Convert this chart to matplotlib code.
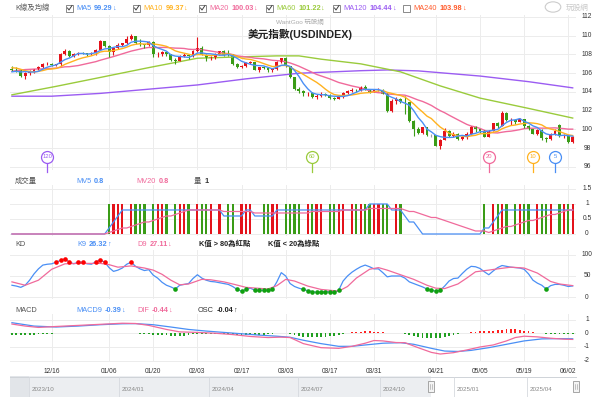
"""USD index (USDINDEX) daily chart with volume, KD and MACD panels."""

import matplotlib

matplotlib.use("Agg")
import matplotlib.pyplot as plt
from matplotlib.patches import Rectangle, Circle
from matplotlib.lines import Line2D
import numpy as np
import pandas as pd

plt.rcParams["font.family"] = ["Liberation Sans", "Noto Sans CJK TC", "DejaVu Sans"]

# ---------------------------------------------------------------- data
holidays = ["2024-12-25", "2025-01-01", "2025-04-18"]
dates = pd.bdate_range("2024-12-03", "2025-06-03")
dates = dates[~dates.isin(pd.to_datetime(holidays))]

tick_dates = ["2024-12-16", "2025-01-06", "2025-01-20", "2025-02-03", "2025-02-17",
              "2025-03-03", "2025-03-17", "2025-03-31", "2025-04-21", "2025-05-05",
              "2025-05-19", "2025-06-02"]

opens = [106.45, 106.37, 106.35, 105.74, 105.99, 106.16, 106.41, 106.70, 106.95, 107.00,
         106.84, 106.95, 108.08, 108.40, 107.82, 108.04, 108.17, 108.13, 108.00, 108.13,
         108.49, 109.39, 108.95, 108.26, 108.69, 109.04, 109.19, 109.65, 109.96, 109.23,
         109.08, 109.00, 109.35, 108.04, 108.06, 108.24, 108.05, 107.44, 107.34, 107.87,
         107.99, 107.80, 108.37, 108.73, 107.96, 107.59, 107.70, 108.04, 108.33, 107.95,
         107.93, 107.03, 106.71, 106.77, 107.11, 107.17, 106.39, 106.62, 106.61, 106.31,
         106.43, 107.25, 107.61, 106.76, 105.59, 104.27, 104.08, 103.84, 103.90, 103.43,
         103.57, 103.83, 103.72, 103.38, 103.24, 103.45, 103.85, 104.09, 104.26, 104.21,
         104.56, 104.29, 104.04, 104.20, 104.22, 103.80, 101.98, 102.99, 103.26, 102.92,
         102.89, 100.87, 100.10, 99.63, 100.22, 99.38, 99.38, 98.28, 98.92, 99.85,
         99.32, 99.47, 98.98, 99.24, 99.47, 100.25, 100.03, 99.83, 99.25, 99.88,
         100.64, 100.42, 101.79, 101.02, 101.05, 100.85, 101.09, 100.38, 100.05, 99.56,
         99.97, 99.11, 98.95, 99.53, 100.45, 99.27, 99.33, 98.71]
highs = [106.74, 106.70, 106.45, 106.15, 106.30, 106.50, 106.80, 107.05, 107.18, 107.10,
         107.00, 108.15, 108.54, 108.45, 108.15, 108.25, 108.30, 108.20, 108.25, 108.55,
         109.54, 109.40, 109.00, 108.75, 109.20, 109.25, 109.96, 110.18, 110.00, 109.60,
         109.15, 109.40, 109.45, 108.30, 108.35, 108.30, 108.10, 107.60, 107.95, 108.15,
         108.10, 108.50, 109.88, 108.90, 108.00, 107.85, 108.15, 108.40, 108.50, 108.50,
         108.05, 107.10, 106.90, 107.20, 107.30, 107.20, 106.70, 106.75, 106.70, 106.60,
         107.30, 107.65, 107.70, 106.80, 105.65, 104.50, 104.20, 104.05, 104.00, 103.80,
         103.95, 103.90, 103.80, 103.50, 103.70, 104.00, 104.20, 104.45, 104.35, 104.60,
         104.70, 104.35, 104.35, 104.40, 104.30, 103.85, 103.25, 103.50, 103.40, 103.55,
         102.95, 101.05, 100.25, 100.30, 100.25, 99.50, 99.40, 99.00, 100.15, 99.90,
         99.75, 99.60, 99.35, 99.70, 100.35, 100.40, 100.10, 99.90, 99.95, 100.70,
         100.80, 101.95, 101.85, 101.20, 101.10, 101.25, 101.10, 100.50, 100.10, 100.10,
         100.00, 99.20, 99.60, 100.00, 100.55, 99.55, 99.40, 99.35]
lows = [106.20, 106.10, 105.62, 105.40, 105.85, 106.05, 106.30, 106.55, 106.85, 106.72,
        106.75, 106.80, 107.95, 107.75, 107.70, 107.95, 108.05, 107.85, 107.90, 107.95,
        108.45, 108.80, 107.75, 107.95, 108.60, 108.90, 109.10, 109.50, 109.15, 108.95,
        108.70, 108.90, 107.75, 107.70, 107.85, 107.85, 107.30, 106.95, 107.30, 107.70,
        107.50, 107.75, 108.30, 107.90, 107.30, 107.45, 107.55, 107.90, 107.85, 107.80,
        106.90, 106.55, 106.55, 106.70, 106.95, 106.30, 106.10, 106.40, 106.15, 106.10,
        106.35, 107.10, 106.70, 105.45, 104.20, 103.90, 103.60, 103.60, 103.35, 103.20,
        103.45, 103.60, 103.30, 103.15, 103.20, 103.35, 103.75, 104.05, 104.05, 104.10,
        104.20, 103.90, 103.95, 104.10, 103.75, 101.90, 101.90, 102.75, 102.80, 101.70,
        100.80, 99.30, 99.50, 99.55, 99.30, 99.20, 98.20, 97.92, 98.90, 99.15,
        99.20, 98.85, 98.90, 98.95, 99.40, 99.70, 99.65, 99.20, 99.15, 99.80,
        100.20, 100.40, 100.90, 100.50, 100.60, 100.80, 100.15, 99.95, 99.50, 99.40,
        98.85, 98.70, 98.90, 99.45, 99.15, 99.10, 98.60, 98.55]
closes = [106.37, 106.35, 105.74, 105.99, 106.16, 106.41, 106.70, 106.95, 107.00, 106.84,
          106.95, 108.08, 108.40, 107.82, 108.04, 108.17, 108.13, 108.00, 108.13, 108.49,
          109.39, 108.95, 108.26, 108.69, 109.04, 109.19, 109.65, 109.96, 109.23, 109.08,
          109.00, 109.35, 108.04, 108.06, 108.24, 108.05, 107.44, 107.34, 107.87, 107.99,
          107.80, 108.37, 108.73, 107.96, 107.59, 107.70, 108.04, 108.33, 107.95, 107.93,
          107.03, 106.71, 106.77, 107.11, 107.17, 106.39, 106.62, 106.61, 106.31, 106.43,
          107.25, 107.61, 106.76, 105.59, 104.27, 104.08, 103.84, 103.90, 103.43, 103.57,
          103.83, 103.72, 103.38, 103.24, 103.45, 103.85, 104.09, 104.26, 104.21, 104.56,
          104.29, 104.04, 104.20, 104.22, 103.80, 101.98, 102.99, 103.26, 102.92, 102.89,
          100.87, 100.10, 99.63, 100.22, 99.38, 99.38, 98.28, 98.92, 99.85, 99.32,
          99.47, 98.98, 99.24, 99.47, 100.25, 100.03, 99.83, 99.25, 99.88, 100.64,
          100.42, 101.79, 101.02, 101.05, 100.85, 101.09, 100.38, 100.05, 99.56, 99.97,
          99.11, 98.95, 99.53, 99.87, 99.27, 99.33, 98.71, 99.25]
# closes of the 19 sessions before the first candle (needed for MA20)
prior_closes = [105.09, 104.47, 105.00, 105.56, 106.02, 106.49, 106.69, 106.68, 106.27,
                106.21, 106.68, 107.03, 107.55, 106.80, 107.00, 106.07, 106.11, 105.74,
                106.45]

ma60_idx = [0, 10, 20, 31, 42, 52, 60, 65, 70, 79, 88, 97, 106, 117, 127]
ma60_val = [103.7, 104.6, 105.55, 106.6, 107.6, 107.75, 107.85, 107.85, 107.5, 107.0,
            106.15, 104.65, 103.35, 102.25, 101.22]
ma120_idx = [0, 9, 20, 31, 42, 53, 65, 79, 85, 92, 106, 117, 127]
ma120_val = [103.55, 103.55, 103.85, 104.3, 104.75, 105.4, 106.0, 106.27, 106.35, 106.25,
             105.7, 105.1, 104.44]

volume = [0] * 22 + [1, 1, 1, 1, 0, 1, 1, 1, 1, 0, 1, 1, 1, 1, 0, 1, 1, 1, 1, 0,
                     1, 1, 1, 1, 0, 1, 0, 1, 1, 0, 1, 1, 1, 0, 0, 1, 1, 1, 1, 0,
                     1, 1, 1, 1, 0, 1, 1, 1, 1, 0, 1, 1, 1, 1, 0, 1, 1, 1, 1, 1,
                     1, 1, 1, 1, 0, 1, 1] + [0] * 18 + \
         [1, 0, 1, 1, 1, 1, 0, 1, 1, 1, 1, 0, 1, 1, 1, 1, 0, 1, 1, 1, 1]

k9 = [28, 26, 23, 28, 40, 55, 67, 76, 78, 79, 83, 87, 91, 83, 79, 83, 83, 79, 78, 84,
      88, 83, 70, 61, 64, 69, 78, 83, 73, 67, 63, 65, 52, 45, 35, 28, 24, 19, 28, 30,
      32, 44, 53, 45, 40, 37, 36, 34, 32, 30, 25, 18, 14, 18, 21, 16, 16, 16, 16, 18,
      36, 58, 50, 32, 25, 21, 18, 15, 13, 11, 12, 13, 12, 11, 16, 38, 50, 59, 66, 72,
      76, 72, 67, 67, 58, 48, 50, 50, 50, 45, 36, 32, 28, 24, 19, 16, 14, 16, 26, 38,
      44, 45, 56, 66, 73, 72, 68, 60, 53, 62, 70, 75, 73, 71, 70, 69, 66, 55, 40, 33,
      28, 19, 27, 30, 30, 28, 25, 26.32]
d9_idx = [0, 3, 6, 9, 12, 15, 18, 20, 22, 24, 27, 30, 32, 34, 36, 38, 40, 43, 45, 48,
          50, 53, 58, 60, 62, 64, 67, 70, 74, 76, 78, 81, 83, 85, 88, 91, 94, 96, 98,
          101, 103, 105, 108, 110, 113, 116, 119, 122, 124, 127]
d9_val = [36, 28, 40, 66, 79, 80, 80, 80, 77, 71, 74, 69, 64, 54, 40, 29, 31, 42, 41, 36,
          31, 23, 19, 27, 42, 38, 26, 18, 14, 25, 45, 66, 70, 64, 53, 42, 28, 21, 20,
          31, 45, 60, 64, 67, 71, 69, 57, 37, 31, 27.11]

macd_idx = [0, 5, 10, 15, 20, 25, 28, 32, 36, 40, 44, 48, 52, 56, 60, 63, 66, 70, 74,
            77, 80, 84, 88, 91, 95, 98, 101, 104, 108, 112, 116, 120, 124, 127]
macd_val = [0.80, 0.55, 0.48, 0.55, 0.65, 0.72, 0.73, 0.65, 0.48, 0.30, 0.18, 0.08,
            -0.02, -0.12, -0.20, -0.28, -0.50, -0.75, -0.95, -0.95, -0.85, -0.72, -0.68,
            -0.80, -1.10, -1.30, -1.33, -1.25, -1.05, -0.80, -0.55, -0.40, -0.38, -0.39]
dif_idx = [0, 3, 6, 10, 15, 20, 25, 28, 31, 35, 38, 42, 46, 50, 54, 58, 61, 63, 66, 70,
           74, 77, 80, 82, 84, 87, 89, 92, 95, 97, 100, 103, 106, 109, 112, 114, 116,
           119, 122, 125, 127]
dif_val = [0.70, 0.55, 0.45, 0.52, 0.60, 0.68, 0.76, 0.74, 0.60, 0.30, 0.12, 0.08,
           0.02, -0.08, -0.22, -0.30, -0.27, -0.30, -0.75, -1.05, -1.10, -0.95, -0.72,
           -0.52, -0.55, -0.67, -0.68, -1.05, -1.40, -1.52, -1.42, -1.22, -1.00, -0.85,
           -0.55, -0.30, -0.20, -0.25, -0.35, -0.42, -0.44]
osc = [-0.10, -0.10, -0.10, -0.09, -0.09, -0.08, -0.07, -0.06, -0.05, -0.03,
       0.00, 0.01, 0.03, 0.04, 0.04, 0.05, 0.05, 0.04, 0.04, 0.03,
       0.03, 0.04, 0.02, 0.03, 0.04, 0.05, 0.04, 0.03, 0.02, -0.02,
       -0.04, -0.06, -0.08, -0.10, -0.12, -0.14, -0.16, -0.18, -0.18, -0.16,
       -0.10, -0.05, -0.04, -0.03, -0.03, -0.04, -0.05, -0.05, -0.06, -0.06,
       -0.07, -0.08, -0.10, -0.10, -0.10, -0.10, -0.09, -0.08, -0.06, -0.03,
       0.02, 0.04, 0.02, -0.05, -0.12, -0.18, -0.23, -0.26, -0.28, -0.28,
       -0.27, -0.25, -0.22, -0.18, -0.12, -0.05, 0.03, 0.08, 0.12, 0.14,
       0.15, 0.15, 0.14, 0.13, 0.10, 0.05, 0.01, 0.00, 0.00, -0.05,
       -0.12, -0.20, -0.26, -0.30, -0.33, -0.34, -0.32, -0.30, -0.25, -0.18,
       -0.10, -0.03, 0.03, 0.07, 0.10, 0.13, 0.15, 0.17, 0.20, 0.22,
       0.25, 0.28, 0.30, 0.32, 0.30, 0.27, 0.22, 0.17, 0.12, 0.07,
       0.03, -0.01, -0.03, -0.04, -0.05, -0.05, -0.05, -0.04]

pin_periods = [120, 60, 20, 10, 5]

nav_labels = ["2023/10", "2024/01", "2024/04", "2024/07", "2024/10", "2025/01", "2025/04"]
nav_pos = [29, 118.5, 209, 298, 380, 454, 527]   # navigator pixel positions

# ---------------------------------------------------------------- style
RED, GREEN, GRAY = "#e4131b", "#3a9c17", "#a0a0a0"
C5, C10, C20, C60, C120, C240 = "#4a8ff5", "#ffb21f", "#f06a9b", "#9acb3c", "#9b5cf2", "#ff5a2a"
GRID = "#ececec"
W, H = 600, 397
X0, X1 = 10, 576
XLIM = (-0.44, 127.75)
FS = 5.3

fig = plt.figure(figsize=(W / 100, H / 100), dpi=100)
renderer = fig.canvas.get_renderer()


def fx(px):
    return px / W


def fy(py):
    return 1 - py / H


def add_ax(x0, y0, x1, y1):
    return fig.add_axes([fx(x0), fy(y1), fx(x1) - fx(x0), fy(y0) - fy(y1)])


def style_axis(ax, ylim, yticks, ylabels):
    ax.set_xlim(*XLIM)
    ax.set_ylim(*ylim)
    for s in ax.spines.values():
        s.set_visible(False)
    ax.set_xticks(tick_pos)
    ax.set_xticklabels([])
    ax.set_yticks(yticks)
    ax.set_yticklabels([])
    ax.tick_params(length=0)
    ax.grid(True, color=GRID, lw=0.7)
    ax.set_axisbelow(True)
    for v, lab in zip(yticks, ylabels):
        ax.text(1 + 11 / (X1 - X0), v, lab, transform=ax.get_yaxis_transform(),
                ha="center", va="center", fontsize=4.8, color="#333")


def fig_text(x, y, s, color="#555", weight="normal", size=FS, ha="left"):
    return fig.text(fx(x), fy(y), s, color=color, fontweight=weight, fontsize=size,
                    ha=ha, va="center")


def text_run(x, y, pieces):
    """Write pieces one after another; each piece is (text, color, weight, gap_px)."""
    for s, color, weight, gap in pieces:
        t = fig_text(x, y, s, color=color, weight=weight)
        x += t.get_window_extent(renderer).width + gap


idx = np.arange(len(dates))
tick_pos = dates.get_indexer(pd.to_datetime(tick_dates))
tick_lab = [pd.Timestamp(d).strftime("%m/%d") for d in tick_dates]

o = np.array(opens)
hi = np.array(highs)
lo = np.array(lows)
c = np.array(closes)
colors = np.where(c > o, RED, np.where(c < o, GREEN, GRAY))

# ---------------------------------------------------------------- price panel
ax_p = add_ax(X0, 15, X1, 170)
style_axis(ax_p, (95.68, 112.21), list(range(96, 113, 2)), [str(v) for v in range(96, 113, 2)])

allc = pd.Series(prior_closes + closes)
n0 = len(prior_closes)
ma5 = allc.rolling(5).mean().values[n0:]
ma10 = allc.rolling(10).mean().values[n0:]
ma20 = allc.rolling(20).mean().values[n0:]

ax_p.plot(ma120_idx, ma120_val, color=C120, lw=1.0)
ax_p.plot(ma60_idx, ma60_val, color=C60, lw=1.0)
ax_p.plot(idx, ma20, color=C20, lw=1.0)
ax_p.vlines(idx, lo, hi, colors=colors, lw=0.8)
body = np.maximum(np.abs(c - o), 0.04)
ax_p.bar(idx, body, bottom=np.minimum(o, c), width=0.66, color=colors, lw=0)
ax_p.plot(idx, ma10, color=C10, lw=1.0)
ax_p.plot(idx, ma5, color=C5, lw=1.0)

pin_colors = [C120, C60, C20, C10, C5]
trans = ax_p.get_xaxis_transform()
for n, col in zip(pin_periods, pin_colors):
    xi = len(dates) - n
    ax_p.plot([xi, xi], [-0.01, 0.05], color=col, lw=0.9, transform=trans, clip_on=False)
    ax_p.plot([xi], [0.087], marker="o", ms=8.6, mfc="white", mec=col, mew=0.9,
              transform=trans, clip_on=False)
    ax_p.text(xi, 0.087, str(n), color=col, fontsize=4.2, ha="center", va="center",
              transform=trans)

# ---------------------------------------------------------------- volume panel
ax_v = add_ax(X0, 185, X1, 236)
style_axis(ax_v, (-0.067, 1.633), [0, 0.5, 1, 1.5], ["0", "0.5", "1", "1.5"])
vol = pd.Series(volume, dtype=float)
ax_v.bar(idx, vol, width=0.5, color=colors, lw=0)
ax_v.plot(idx, vol.rolling(5, min_periods=1).mean(), color=C5, lw=0.9)
ax_v.plot(idx, vol.rolling(20, min_periods=1).mean(), color=C20, lw=0.9)

# ---------------------------------------------------------------- KD panel
ax_k = add_ax(X0, 250, X1, 299)
style_axis(ax_k, (-4.76, 111.9), [0, 50, 100], ["0", "50", "100"])
k = np.array(k9, dtype=float)
ax_k.plot(idx, k, color=C5, lw=0.9)
ax_k.plot(d9_idx, d9_val, color=C20, lw=0.9)
ax_k.scatter(idx[k > 80], k[k > 80], s=11, color="#ff0000", zorder=3, lw=0)
ax_k.scatter(idx[k < 20], k[k < 20], s=11, color="#10a010", zorder=3, lw=0)

# ---------------------------------------------------------------- MACD panel
ax_m = add_ax(X0, 314, X1, 362)
style_axis(ax_m, (-2.111, 1.444), [-2, -1, 0, 1], ["-2", "-1", "0", "1"])
osc_a = np.array(osc)
ax_m.bar(idx, osc_a, width=0.42, color=np.where(osc_a >= 0, "#ff2020", "#22a022"), lw=0)
ax_m.plot(macd_idx, macd_val, color=C5, lw=0.9)
ax_m.plot(dif_idx, dif_val, color=C20, lw=0.9)
ax_m.set_xticklabels(tick_lab, fontsize=4.8, color="#333")
ax_m.tick_params(axis="x", pad=4)

# ---------------------------------------------------------------- navigator
ax_n = add_ax(0, 376, 600, 397)
ax_n.set_xlim(0, 600)
ax_n.set_ylim(397, 376)
ax_n.axis("off")
ax_n.add_patch(Rectangle((X0, 376), 431 - X0, 21, color="#eceef1", lw=0))
ax_n.add_patch(Rectangle((X0, 376), nav_pos[0] - X0, 21, color="#e2e5e9", lw=0))
ax_n.plot([X0, X1], [376.5, 376.5], color="#cfd3d8", lw=0.7)
for xp, lab in zip(nav_pos, nav_labels):
    ax_n.plot([xp, xp], [377, 397], color="#d6d9de", lw=0.6)
    ax_n.text(xp + 3, 390, lab, fontsize=4.5, color="#888", va="center")
for xp in (431, 576):
    ax_n.add_patch(Rectangle((xp - 3, 381), 6, 11, facecolor="#f4f4f4", edgecolor="#999", lw=0.6))
    ax_n.plot([xp - 0.8, xp - 0.8], [383.5, 389.5], color="#999", lw=0.4)
    ax_n.plot([xp + 0.8, xp + 0.8], [383.5, 389.5], color="#999", lw=0.4)

# ---------------------------------------------------------------- texts
fig_text(300, 21.5, "WantGoo 玩股網", color="#aaaaaa", size=4.6, ha="center")
fig_text(300, 34, "美元指數(USDINDEX)", color="#222", weight="bold", size=7.7, ha="center")
fig_text(577, 8, "玩股網", color="#c9c9c9", size=5.5, ha="center")
fig.patches.append(Circle((fx(553), fy(7)), 0.013, transform=fig.transFigure,
                          facecolor="none", edgecolor="#cccccc", lw=0.8))

legend_items = [("MA5", "99.29", 66, C5, True), ("MA10", "99.37", 133, C10, True),
                ("MA20", "100.03", 199, C20, True), ("MA60", "101.22", 266, C60, True),
                ("MA120", "104.44", 333, C120, True), ("MA240", "103.98", 403, C240, False)]
fig_text(15, 8, "K線及均線")
for name, val, xb, col, checked in legend_items:
    fig.patches.append(Rectangle((fx(xb), fy(11.5)), fx(7), 7 / H, transform=fig.transFigure,
                                 facecolor="white", edgecolor="#777", lw=0.6))
    if checked:
        fig.lines.append(Line2D([fx(xb + 1.5), fx(xb + 3), fx(xb + 6)],
                                [fy(8), fy(10), fy(5.5)], transform=fig.transFigure,
                                color="#444", lw=0.7))
    text_run(xb + 10, 8, [(name, col, "normal", 3), (val, col, "bold", -0.5),
                          ("↓", col, "normal", 0)])

fig_text(15, 181, "成交量")
text_run(76, 181, [("MV5", C5, "normal", 3), ("0.8", C5, "bold", 0)])
text_run(136, 181, [("MV20", C20, "normal", 3), ("0.8", C20, "bold", 0)])
text_run(194, 181, [("量", "#555", "normal", 3), ("1", "#333", "bold", 0)])

fig_text(15, 244, "KD")
text_run(77, 244, [("K9", C5, "normal", 3), ("26.32", C5, "bold", -0.5), ("↑", C5, "normal", 0)])
text_run(137, 244, [("D9", C20, "normal", 3), ("27.11", C20, "bold", -0.5), ("↓", C20, "normal", 0)])
fig_text(199, 244, "K值 > 80為紅點", color="#222", weight="bold")
fig_text(268, 244, "K值 < 20為綠點", color="#222", weight="bold")

fig_text(15, 310, "MACD")
text_run(76, 310, [("MACD9", C5, "normal", 3), ("-0.39", C5, "bold", -0.5), ("↓", C5, "normal", 0)])
text_run(137, 310, [("DIF", C20, "normal", 3), ("-0.44", C20, "bold", -0.5), ("↓", C20, "normal", 0)])
text_run(198, 310, [("OSC", "#333", "normal", 3), ("-0.04", "#222", "bold", -0.5),
                    ("↑", "#333", "normal", 0)])

fig.savefig("out.png", dpi=100)
